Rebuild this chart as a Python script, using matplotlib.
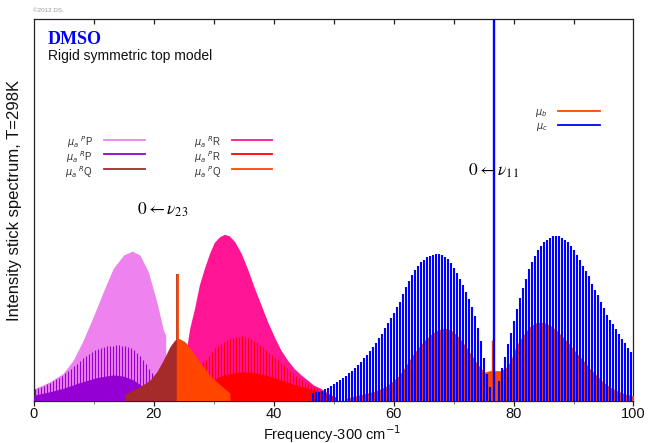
import matplotlib
matplotlib.use('Agg')
import matplotlib.pyplot as plt

plt.rcParams['font.family'] = ['Liberation Sans', 'DejaVu Sans']

# ---------------- data ----------------
# mu_a PP branch (violet) - dense sticks, envelope
pp_freq = [0.0, 2.7, 4.9, 6.6, 8.25, 9.9, 11.6, 13.25, 15.0, 16.4, 17.7, 19.1, 20.5, 21.6, 22.0]
pp_int = [0.030, 0.049, 0.071, 0.106, 0.158, 0.219, 0.285, 0.346, 0.381, 0.391, 0.381, 0.337, 0.259, 0.185, 0.170]

# mu_a RP branch (darkviolet) - weak dense sticks (envelope) + strong sticks
rp_weak_freq = [0.0, 2.7, 4.9, 7.7, 10.5, 13.25, 14.9, 16.6, 18.25, 19.5, 20.5]
rp_weak_int = [0.014, 0.023, 0.032, 0.047, 0.060, 0.067, 0.064, 0.054, 0.036, 0.025, 0.015]
rp_freq = [0.25, 0.75, 1.25, 1.75, 2.25, 2.75, 3.25, 3.75, 4.25, 4.75,
           5.25, 5.75, 6.25, 6.75, 7.25, 7.75, 8.25, 8.75, 9.25, 9.75,
           10.25, 10.75, 11.25, 11.75, 12.25, 12.75, 13.25, 13.75, 14.25, 14.75,
           15.25, 15.75, 16.25, 16.75, 17.25, 17.75, 18.25, 18.75, 19.25, 19.75]
rp_int = [0.029, 0.032, 0.035, 0.039, 0.043, 0.047, 0.051, 0.056, 0.060, 0.065,
          0.071, 0.077, 0.083, 0.090, 0.096, 0.103, 0.110, 0.116, 0.121, 0.126,
          0.131, 0.135, 0.138, 0.140, 0.142, 0.144, 0.144, 0.145, 0.145, 0.144,
          0.142, 0.140, 0.137, 0.131, 0.125, 0.117, 0.107, 0.095, 0.083, 0.071]

# mu_a RQ (brown) and PQ (orangered) Q-branch envelopes
rq_freq = [15.2, 16.0, 17.7, 19.4, 20.5, 21.6, 22.7, 23.5, 24.0]
rq_int = [0.017, 0.023, 0.036, 0.054, 0.075, 0.106, 0.141, 0.158, 0.164]
pq_freq = [24.0, 25.2, 26.3, 27.4, 28.5, 29.6, 30.8, 31.9, 32.7]
pq_int = [0.164, 0.154, 0.132, 0.106, 0.084, 0.062, 0.045, 0.030, 0.019]
q_head_freq = [23.85, 24.1]
q_head_int = [0.331, 0.331]

# mu_a RR branch (deeppink) envelope
rr_freq = [24.5, 25.0, 25.5, 26.0, 26.8, 27.6, 28.45, 29.3, 30.1, 31.0, 31.8, 32.6, 33.5,
           34.6, 35.7, 36.8, 37.9, 39.0, 40.1, 41.2, 42.3, 43.4, 44.5, 45.6, 46.7, 47.7,
           48.5, 49.4, 50.5]
rr_int = [0.0, 0.08, 0.14, 0.189, 0.241, 0.302, 0.346, 0.385, 0.414, 0.429, 0.435, 0.431, 0.416,
          0.385, 0.342, 0.294, 0.250, 0.206, 0.167, 0.132, 0.106, 0.084, 0.068, 0.054, 0.040, 0.033,
          0.025, 0.014, 0.005]

# mu_a PR branch (red) - weak dense sticks (envelope) + strong sticks
pr_weak_freq = [24.0, 26.0, 28.0, 30.0, 31.8, 33.5, 35.2, 36.8, 39.0, 41.2, 43.4, 45.6, 47.8, 49.5, 50.5]
pr_weak_int = [0.030, 0.040, 0.048, 0.056, 0.067, 0.073, 0.075, 0.073, 0.065, 0.054, 0.042, 0.033, 0.023, 0.015, 0.008]
pr_freq = [24.25, 24.75, 25.25, 25.75, 26.25, 26.75, 27.25, 27.75, 28.25, 28.75,
           29.25, 29.75, 30.25, 30.75, 31.25, 31.75, 32.25, 32.75, 33.25, 33.75,
           34.25, 34.75, 35.25, 35.75, 36.25, 36.75, 37.25, 37.75, 38.25, 38.75,
           39.25, 39.75, 40.25, 40.75, 41.25, 41.75, 42.25, 42.75, 43.25, 43.75,
           44.25, 44.75, 45.25, 45.75, 46.25, 46.75, 47.25, 47.75, 48.25, 48.75,
           49.25, 49.75]
pr_int = [0.048, 0.056, 0.063, 0.070, 0.077, 0.084, 0.090, 0.096, 0.101, 0.107,
          0.117, 0.128, 0.137, 0.143, 0.149, 0.154, 0.158, 0.161, 0.163, 0.165,
          0.167, 0.168, 0.166, 0.164, 0.160, 0.156, 0.152, 0.146, 0.139, 0.132,
          0.125, 0.118, 0.111, 0.105, 0.099, 0.092, 0.085, 0.078, 0.072, 0.065,
          0.060, 0.054, 0.049, 0.044, 0.040, 0.036, 0.032, 0.028, 0.024, 0.020,
          0.016, 0.012]

# mu_b band (orangered) envelope of dense sticks
mub_freq = [52.0, 53.0, 55.0, 57.0, 58.5, 59.5, 61.0, 62.0, 63.0, 64.0, 65.0, 66.0, 67.0, 68.0,
            68.8, 69.7, 70.8, 71.9, 73.0, 74.1, 75.2, 75.5, 76.0, 77.0, 77.8, 78.6, 79.4, 80.5,
            81.6, 82.7, 83.8, 84.9, 86.0, 87.1, 88.2, 89.4, 90.5, 91.6, 92.7, 93.8, 94.9, 96.0,
            97.1, 98.2, 99.6, 100.0]
mub_int = [0.005, 0.010, 0.017, 0.025, 0.035, 0.046, 0.067, 0.090, 0.115, 0.136, 0.155, 0.170, 0.182, 0.188,
           0.189, 0.183, 0.167, 0.145, 0.119, 0.093, 0.074, 0.076, 0.078, 0.078, 0.078, 0.084, 0.100, 0.145,
           0.171, 0.193, 0.204, 0.205, 0.198, 0.185, 0.167, 0.147, 0.124, 0.106, 0.084, 0.067, 0.049, 0.036,
           0.027, 0.019, 0.013, 0.012]
mub_q_freq = [76.45]
mub_q_int = [0.158]

# mu_c band (blue) sticks
muc_freq_low = [46.5, 47.0, 47.5, 48.0, 48.5, 49.0, 49.5, 50.0, 50.5, 51.0,
                51.5, 52.0, 52.5, 53.0, 53.5, 54.0, 54.5, 55.0, 55.5, 56.0,
                56.5, 57.0, 57.5, 58.0, 58.5, 59.0, 59.5, 60.0, 60.5, 61.0,
                61.5, 62.0, 62.5, 63.0, 63.5, 64.0, 64.5, 65.0, 65.5, 66.0,
                66.5, 67.0, 67.5, 68.0, 68.5, 69.0, 69.5, 70.0, 70.5, 71.0,
                71.5, 72.0, 72.5, 73.0, 73.5, 74.0, 74.5, 75.0, 75.5, 76.0]
muc_int_low = [0.019, 0.021, 0.023, 0.026, 0.030, 0.034, 0.038, 0.043, 0.048, 0.053,
               0.058, 0.064, 0.071, 0.078, 0.085, 0.094, 0.100, 0.110, 0.119, 0.129,
               0.139, 0.151, 0.163, 0.175, 0.189, 0.203, 0.216, 0.230, 0.244, 0.257,
               0.278, 0.297, 0.313, 0.329, 0.342, 0.353, 0.362, 0.369, 0.375, 0.379,
               0.382, 0.383, 0.383, 0.381, 0.377, 0.370, 0.360, 0.347, 0.333, 0.318,
               0.302, 0.285, 0.266, 0.246, 0.220, 0.190, 0.155, 0.110, 0.070, 0.035]
muc_freq_high = [77.5, 78.0, 78.5, 79.0, 79.5, 80.0, 80.5, 81.0, 81.5, 82.0,
                 82.5, 83.0, 83.5, 84.0, 84.5, 85.0, 85.5, 86.0, 86.5, 87.0,
                 87.5, 88.0, 88.5, 89.0, 89.5, 90.0, 90.5, 91.0, 91.5, 92.0,
                 92.5, 93.0, 93.5, 94.0, 94.5, 95.0, 95.5, 96.0, 96.5, 97.0,
                 97.5, 98.0, 98.5, 99.0, 99.5]
muc_int_high = [0.050, 0.085, 0.115, 0.148, 0.178, 0.208, 0.240, 0.268, 0.295, 0.318,
                0.343, 0.362, 0.378, 0.393, 0.405, 0.414, 0.421, 0.426, 0.430, 0.431,
                0.430, 0.426, 0.421, 0.414, 0.405, 0.393, 0.380, 0.367, 0.353, 0.340,
                0.325, 0.306, 0.290, 0.275, 0.258, 0.241, 0.225, 0.211, 0.199, 0.187,
                0.175, 0.162, 0.150, 0.138, 0.127]
muc_q_freq = [76.8]
muc_q_int = [1.0]

x_ticks = [0, 20, 40, 60, 80, 100]
x_minor = [10, 30, 50, 70, 90]

C_PP, C_RP, C_RQ = '#EE82EE', '#9400D3', '#A52A2A'
C_RR, C_PR, C_PQ = '#FF1493', '#FF0000', '#FF4500'
C_B, C_C = '#FF4500', '#0000FF'

# ---------------- figure ----------------
fig = plt.figure(figsize=(6.56, 4.43), dpi=100)
ax = fig.add_axes([0.0515, 0.0959, 0.9142, 0.8623])
ax.set_xlim(0, 100)
ax.set_ylim(0, 1)

ax.fill_between(pp_freq, 0, pp_int, color=C_PP, lw=0, zorder=1)
ax.vlines(rp_freq, 0, rp_int, color=C_RP, lw=0.8, zorder=2)
ax.fill_between(rp_weak_freq, 0, rp_weak_int, color=C_RP, lw=0, zorder=3)

ax.fill_between(rr_freq, 0, rr_int, color=C_RR, lw=0, zorder=1)
ax.vlines(pr_freq, 0, pr_int, color=C_PR, lw=0.8, zorder=2)
ax.fill_between(pr_weak_freq, 0, pr_weak_int, color=C_PR, lw=0, zorder=3)

ax.fill_between(rq_freq, 0, rq_int, color=C_RQ, lw=0, zorder=4)
ax.fill_between(pq_freq, 0, pq_int, color=C_PQ, lw=0, zorder=4)
ax.vlines(q_head_freq[:1], 0, q_head_int[:1], color='#C0321A', lw=1.3, zorder=5)
ax.vlines(q_head_freq[1:], 0, q_head_int[1:], color=C_PQ, lw=1.3, zorder=5)

ax.fill_between(mub_freq, 0, mub_int, color=C_B, lw=0, zorder=5)
ax.vlines(muc_freq_low, 0, muc_int_low, color=C_C, lw=1.5, zorder=6)
ax.vlines(muc_freq_high, 0, muc_int_high, color=C_C, lw=1.5, zorder=6)
ax.vlines(mub_q_freq, 0, mub_q_int, color=C_B, lw=1.0, zorder=7)
ax.vlines(muc_q_freq, 0, muc_q_int, color=C_C, lw=1.7, zorder=7)

# axes styling
for s in ax.spines.values():
    s.set_color('#222222')
    s.set_linewidth(0.9)
ax.set_yticks([])
ax.set_xticks(x_ticks)
ax.set_xticks(x_minor, minor=True)
ax.tick_params(axis='x', which='major', direction='out', length=3.5, width=0.9,
               labelsize=10.5, pad=1.5, colors='#222222')
ax.tick_params(axis='x', which='minor', direction='out', length=2.2, width=0.7, colors='#777777')
ax.tick_params(axis='x', which='both', labelcolor='#111111')
top = ax.secondary_xaxis('top')
top.set_xticks(x_minor + x_ticks[1:-1])
top.tick_params(direction='in', length=3.5, width=0.9, labeltop=False, colors='#222222')
top.spines['top'].set_visible(False)

fig.text(0.506, 0.021, 'Frequency-300 cm$^{-1}$', ha='center', va='center', fontsize=10.5,
         color='#111111')
fig.text(15 / 656, 1 - 200 / 443, 'Intensity stick spectrum, T=298K', rotation=90,
         ha='center', va='center', fontsize=12, color='#111111')

fig.text(33 / 656, 1 - 11 / 443, '\u00a92012 DS', fontsize=4.5, color='#999999', va='center')
ax.text(0.0237, 0.933, 'DMSO', transform=ax.transAxes, fontsize=13, fontweight='bold',
        family=['Liberation Serif', 'DejaVu Serif'], color='#0000FF', va='baseline')
ax.text(0.0245, 0.891, 'Rigid symmetric top model', transform=ax.transAxes, fontsize=10,
        color='#111111', va='baseline')

ax.text(0.172, 0.488, r'$0\leftarrow\nu_{23}$', transform=ax.transAxes, fontsize=12.5,
        math_fontfamily='stix', va='baseline', zorder=9)
ax.text(0.724, 0.59, r'$0\leftarrow\nu_{11}$', transform=ax.transAxes, fontsize=12.5,
        math_fontfamily='stix', va='baseline', zorder=9)

# legends (drawn manually: label left, line right)
leg1 = [(r'$\mu_a$ $^{P}$P', C_PP, 0.0987, 0.1176, 0.1854, 0.682),
        (r'$\mu_a$ $^{R}$P', C_RP, 0.0987, 0.1176, 0.1854, 0.6445),
        (r'$\mu_a$ $^{R}$Q', C_RQ, 0.0987, 0.1176, 0.1854, 0.605),
        (r'$\mu_a$ $^{R}$R', C_RR, 0.312, 0.330, 0.3967, 0.682),
        (r'$\mu_a$ $^{P}$R', C_PR, 0.312, 0.330, 0.3967, 0.6445),
        (r'$\mu_a$ $^{P}$Q', C_PQ, 0.312, 0.330, 0.3967, 0.605),
        (r'$\mu_b$', C_B, 0.857, 0.874, 0.9435, 0.758),
        (r'$\mu_c$', C_C, 0.857, 0.874, 0.9435, 0.7212)]
for lab, col, tx, x0, x1, y in leg1:
    ax.plot([x0, x1], [y, y], color=col, lw=1.3, transform=ax.transAxes, zorder=9)
    ax.text(tx, y - 0.006, lab, transform=ax.transAxes, ha='right', va='center',
            fontsize=7, color='#333333', zorder=9)

fig.savefig('out.png', dpi=100)
